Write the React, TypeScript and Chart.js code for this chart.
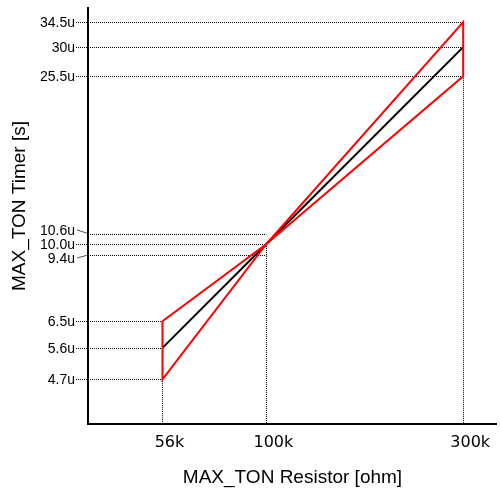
import { useEffect, useRef } from "react";
import { Chart, registerables } from "chart.js";

Chart.register(...registerables);

// ---- data ----
const resistorsK = [56, 100, 300];
const resistorLabels = ["56k", "100k", "300k"];
const timerTyp = [5.6, 10, 30];
const timerMax = [6.5, 10, 34.5];
const timerMin = [4.7, 10, 25.5];

const yTickValues = [34.5, 30, 25.5, 10.6, 10.0, 9.4, 6.5, 5.6, 4.7];
const yTickLabels = ["34.5u", "30u", "25.5u", "10.6u", "10.0u", "9.4u", "6.5u", "5.6u", "4.7u"];
const yTickResistor = [300, 300, 300, 100, 100, 100, 56, 56, 56];

const xTitle = "MAX_TON Resistor [ohm]";
const yTitle = "MAX_TON Timer [s]";

const TITLE_FONT = "19px 'Liberation Sans', Arial, sans-serif";
const YTICK_FONT = "14px 'Liberation Sans', Arial, sans-serif";
const XTICK_FONT = "16px 'DejaVu Sans', sans-serif";

const annotate = {
  id: "annotate",
  beforeDatasetsDraw(chart: any) {
    const { ctx, chartArea: ca, scales } = chart;
    const x = scales.x;
    const y = scales.y;
    ctx.save();
    ctx.strokeStyle = "#000";
    ctx.lineWidth = 1;
    ctx.setLineDash([1, 1]);
    // vertical dotted lines
    resistorsK.forEach((r, i) => {
      const px = Math.round(x.getPixelForValue(r)) + 0.5;
      const top = y.getPixelForValue(timerMin[i]);
      ctx.beginPath();
      ctx.moveTo(px, top);
      ctx.lineTo(px, ca.bottom);
      ctx.stroke();
    });
    // horizontal label layout
    const lineYs = yTickValues.map((v) => y.getPixelForValue(v));
    const labelYs = lineYs.slice();
    const groups: Record<string, number[]> = {};
    yTickResistor.forEach((r, k) => {
      (groups[r] = groups[r] || []).push(k);
    });
    Object.values(groups).forEach((idx) => {
      const sorted = idx.slice().sort((a, b) => lineYs[a] - lineYs[b]);
      const mid = Math.floor(sorted.length / 2);
      for (let j = mid - 1; j >= 0; j--) {
        labelYs[sorted[j]] = Math.min(lineYs[sorted[j]], labelYs[sorted[j + 1]] - 14);
      }
      for (let j = mid + 1; j < sorted.length; j++) {
        labelYs[sorted[j]] = Math.max(lineYs[sorted[j]], labelYs[sorted[j - 1]] + 14);
      }
    });
    yTickValues.forEach((v, k) => {
      const ly = Math.round(lineYs[k]) + 0.5;
      const endX = x.getPixelForValue(yTickResistor[k]);
      const offset = Math.abs(labelYs[k] - lineYs[k]) > 1.5;
      ctx.setLineDash([1, 1]);
      ctx.strokeStyle = "#000";
      ctx.beginPath();
      ctx.moveTo(offset ? ca.left : ca.left - 12, ly);
      ctx.lineTo(endX, ly);
      ctx.stroke();
      if (offset) {
        ctx.setLineDash([]);
        ctx.strokeStyle = "#555";
        ctx.beginPath();
        ctx.moveTo(ca.left - 11, labelYs[k]);
        ctx.lineTo(ca.left, lineYs[k]);
        ctx.stroke();
      }
    });
    ctx.restore();

    // text
    ctx.save();
    ctx.fillStyle = "#000";
    ctx.font = YTICK_FONT;
    ctx.textAlign = "right";
    ctx.textBaseline = "middle";
    yTickLabels.forEach((t, k) => {
      ctx.fillText(t, ca.left - 13, labelYs[k] + 1);
    });
    ctx.font = XTICK_FONT;
    ctx.textAlign = "center";
    ctx.textBaseline = "alphabetic";
    resistorsK.forEach((r, i) => {
      ctx.fillText(resistorLabels[i], x.getPixelForValue(r) + 7, ca.bottom + 23);
    });
    ctx.font = TITLE_FONT;
    ctx.fillText(xTitle, (ca.left + ca.right) / 2, ca.bottom + 59);
    ctx.translate(25, 206);
    ctx.rotate(-Math.PI / 2);
    ctx.fillText(yTitle, 0, 0);
    ctx.restore();
  },
  afterDatasetsDraw(chart: any) {
    const { ctx, chartArea: ca } = chart;
    ctx.save();
    ctx.strokeStyle = "#000";
    ctx.lineWidth = 2;
    ctx.beginPath();
    ctx.moveTo(ca.left, ca.top);
    ctx.lineTo(ca.left, ca.bottom);
    ctx.lineTo(ca.right, ca.bottom);
    ctx.stroke();
    ctx.restore();
  },
};

export default function App() {
  const ref = useRef<HTMLCanvasElement>(null);
  useEffect(() => {
    const n = resistorsK.length;
    const typical = resistorsK.map((r, i) => ({ x: r, y: timerTyp[i] }));
    const upper = resistorsK.map((r, i) => ({ x: r, y: timerMax[i] }));
    const lower = resistorsK.map((r, i) => ({ x: r, y: timerMin[i] })).reverse();
    const polygon = [
      { x: resistorsK[0], y: timerMin[0] },
      ...upper,
      ...lower,
      { x: resistorsK[0], y: timerMax[0] },
    ];
    void n;
    const chart = new Chart(ref.current as HTMLCanvasElement, {
      type: "scatter",
      data: {
        datasets: [
          {
            label: "tolerance",
            data: polygon,
            showLine: true,
            borderColor: "#ff0000",
            borderWidth: 2,
            pointRadius: 0,
            fill: false,
            order: 0,
          } as any,
          {
            label: "typical",
            data: typical,
            showLine: true,
            borderColor: "#000000",
            borderWidth: 2,
            pointRadius: 0,
            fill: false,
            order: 1,
          } as any,
        ],
      },
      options: {
        responsive: false,
        animation: false,
        devicePixelRatio: 1,
        events: [],
        layout: { padding: { left: 88, right: 3, top: 7, bottom: 64 } },
        plugins: { legend: { display: false }, tooltip: { enabled: false } },
        scales: {
          x: { type: "logarithmic", min: 36.95, max: 362.3, display: false },
          y: { type: "logarithmic", min: 3.661, max: 37.53, display: false },
        },
      },
      plugins: [annotate],
    });
    return () => chart.destroy();
  }, []);
  return (
    <div style={{ position: "fixed", left: 0, top: 0, width: 500, height: 488, background: "#fff" }}>
      <canvas ref={ref} width={500} height={488} style={{ display: "block" }} />
    </div>
  );
}
